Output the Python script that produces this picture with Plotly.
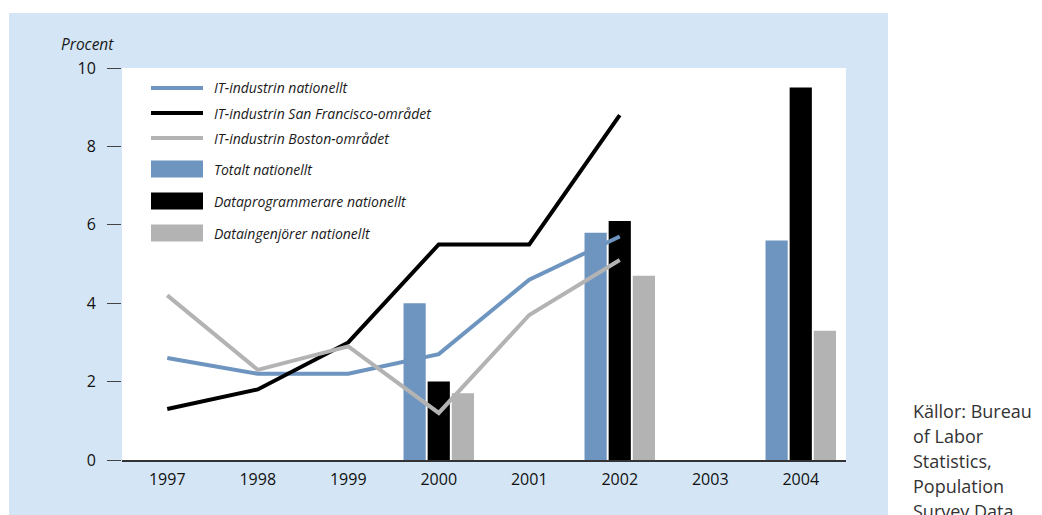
import plotly.graph_objects as go

years = ["1997", "1998", "1999", "2000", "2001", "2002", "2003", "2004"]

it_national = [2.6, 2.2, 2.2, 2.7, 4.6, 5.7, None, None]
it_sf = [1.3, 1.8, 3.0, 5.5, 5.5, 8.8, None, None]
it_boston = [4.2, 2.3, 2.9, 1.2, 3.7, 5.1, None, None]

total_national = [None, None, None, 4.0, None, 5.8, None, 5.6]
programmers_national = [None, None, None, 2.0, None, 6.1, None, 9.5]
engineers_national = [None, None, None, 1.7, None, 4.7, None, 3.3]

line_names = ["IT-industrin nationellt", "IT-industrin San Francisco-området", "IT-industrin Boston-området"]
bar_names = ["Totalt nationellt", "Dataprogrammerare nationellt", "Dataingenjörer nationellt"]
source_lines = ["Källor: Bureau", "of Labor", "Statistics,", "Population", "Survey Data"]

BLUE = "#6e94c0"
BLACK = "#000000"
GRAY = "#b3b3b3"
BG = "#d4e6f5"
FONT = "Open Sans"

OFF = 8  # browser body margin
W, H = 1042, 515
# plot area in screen pixels of the reference
SL, SR, ST, SB = 122, 846, 68, 460
L, R, T, B = SL - OFF, SR - OFF, ST - OFF, SB - OFF


def px(x):
    return (x - SL) / (SR - SL)


def py(y):
    return (SB - y) / (SB - ST)


fig = go.Figure()
for vals, name, col in zip([total_national, programmers_national, engineers_national], bar_names, [BLUE, BLACK, GRAY]):
    fig.add_trace(go.Bar(x=years, y=vals, name=name, marker=dict(color=col, line=dict(width=0)), showlegend=False))
for vals, name, col in zip([it_national, it_sf, it_boston], line_names, [BLUE, BLACK, GRAY]):
    fig.add_trace(go.Scatter(x=years, y=vals, name=name, mode="lines", line=dict(color=col, width=4),
                             connectgaps=False, showlegend=False))

shapes = [
    dict(type="rect", xref="paper", yref="paper", x0=px(9), x1=px(888), y0=py(530), y1=py(13),
         fillcolor=BG, line=dict(width=0), layer="below"),
    dict(type="rect", xref="paper", yref="paper", x0=0, x1=1, y0=0, y1=1,
         fillcolor="white", line=dict(width=0), layer="below"),
]
annotations = []

# custom legend
line_rows = [88, 113, 138]
bar_rows = [169, 201, 233]
lfont = dict(family=FONT, size=14, color="#1a1a1a", style="italic")
for yrow, name, col in zip(line_rows, line_names, [BLUE, BLACK, GRAY]):
    shapes.append(dict(type="line", xref="paper", yref="paper", x0=px(151), x1=px(203), y0=py(yrow), y1=py(yrow),
                       line=dict(color=col, width=4), layer="above"))
    annotations.append(dict(xref="paper", yref="paper", x=px(212), y=py(yrow), text=name, showarrow=False,
                            xanchor="left", yanchor="middle", font=lfont))
for yrow, name, col in zip(bar_rows, bar_names, [BLUE, BLACK, GRAY]):
    shapes.append(dict(type="rect", xref="paper", yref="paper", x0=px(151), x1=px(203), y0=py(yrow + 8.5), y1=py(yrow - 8.5),
                       fillcolor=col, line=dict(width=0), layer="above"))
    annotations.append(dict(xref="paper", yref="paper", x=px(212), y=py(yrow), text=name, showarrow=False,
                            xanchor="left", yanchor="middle", font=lfont))

annotations.append(dict(xref="paper", yref="paper", x=px(116), y=py(44), text="Procent", showarrow=False,
                        xanchor="right", yanchor="middle", font=dict(family=FONT, size=15.5, color="#1a1a1a", style="italic")))

for i, t in enumerate(source_lines):
    annotations.append(dict(xref="paper", yref="paper", x=px(911), y=py(411 + i * 25), text=t, showarrow=False,
                            xanchor="left", yanchor="middle", font=dict(family=FONT, size=18, color="#333333")))

fig.update_layout(
    width=W, height=H,
    margin=dict(l=L, r=W - R, t=T, b=H - B, pad=0),
    paper_bgcolor="white", plot_bgcolor="white",
    barmode="group", bargap=0.2, bargroupgap=0.08,
    shapes=shapes, annotations=annotations,
    font=dict(family=FONT, color="#111111"),
    showlegend=False,
)
fig.update_xaxes(type="category", range=[-0.5, 7.5], showgrid=False, zeroline=False,
                 showline=True, linecolor="#333333", linewidth=1.5, ticks="", tickfont=dict(size=16),
                 ticklabelstandoff=4, fixedrange=True)
fig.update_yaxes(range=[0, 10], tickvals=[0, 2, 4, 6, 8, 10], showgrid=False, zeroline=False, showline=False,
                 ticks="outside", ticklen=14, tickcolor="#444444", tickwidth=1.2, tickfont=dict(size=16),
                 ticklabelstandoff=8, fixedrange=True)

fig.write_html("out.html")
